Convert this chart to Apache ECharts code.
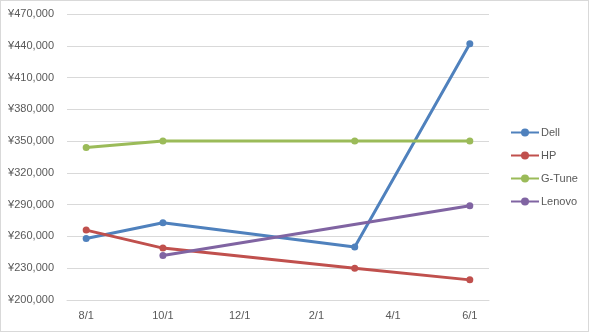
<!DOCTYPE html>
<html><head><meta charset="utf-8">
<script src="https://cdn.jsdelivr.net/npm/echarts@6/dist/echarts.min.js"></script>
<style>html,body{margin:0;padding:0;background:#fff}#c{width:589px;height:332px;box-sizing:border-box;border:1px solid #d9d9d9}</style>
</head><body><div id="c"></div>
<script>
const categories = ['8/1','9/1','10/1','11/1','12/1','1/1','2/1','3/1','4/1','5/1','6/1'];
const dell   = [258000, null, 273000, null, null, null, null, 250000, null, null, 442000];
const hp     = [266000, null, 249000, null, null, null, null, 230000, null, null, 219000];
const gtune  = [344000, null, 350000, null, null, null, null, 350000, null, null, 350000];
const lenovo = [null, null, 242000, null, null, null, null, null, null, null, 289000];
const seriesNames = ['Dell','HP','G-Tune','Lenovo'];
const colors = ['#4f81bd','#c0504d','#9bbb59','#8064a2'];

const chart = echarts.init(document.getElementById('c'), null, {renderer:'canvas'});
const font = '"Liberation Sans", Arial, sans-serif';
function mk(name, data, i){
  return {name, type:'line', data, connectNulls:true, symbol:'circle', symbolSize:7,
    lineStyle:{width:3, color:colors[i]}, itemStyle:{color:colors[i]}, animation:false};
}
chart.setOption({
  animation:false,
  grid:{left:66, right:99, top:13, bottom:31},
  legend:{orient:'vertical', left:504, top:121, itemWidth:28, itemHeight:10, itemGap:12,
    textStyle:{color:'#595959', fontSize:11, fontFamily:font, padding:[0,0,0,-3]},
    data:seriesNames},
  xAxis:{type:'category', data:categories, boundaryGap:true,
    axisLine:{lineStyle:{color:'#d9d9d9'}},
    axisTick:{interval:1, length:4, lineStyle:{color:'#d9d9d9'}},
    axisLabel:{interval:1, color:'#595959', fontSize:11, fontFamily:font, margin:10}},
  yAxis:{type:'value', min:200000, max:470000, interval:30000,
    axisLine:{show:false}, axisTick:{show:false},
    splitLine:{lineStyle:{color:'#d9d9d9'}},
    axisLabel:{color:'#595959', fontSize:11, fontFamily:font, margin:13,
      formatter:v=>'¥'+v.toLocaleString('en-US')}},
  series:[mk('Dell',dell,0), mk('HP',hp,1), mk('G-Tune',gtune,2), mk('Lenovo',lenovo,3)]
});
</script></body></html>
